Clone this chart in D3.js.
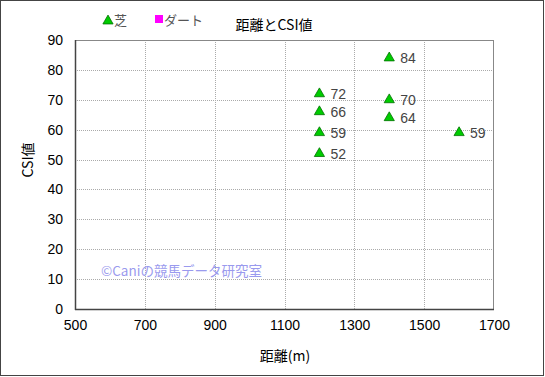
<!DOCTYPE html>
<html><head><meta charset="utf-8">
<script src="https://cdn.jsdelivr.net/npm/d3@7"></script>
<style>body{margin:0;background:#fff}svg{display:block}</style>
</head><body><svg id="c" width="545" height="377"></svg>
<script>
const distances = [1200, 1200, 1200, 1200, 1400, 1400, 1400, 1600];
const csiValues = [72, 66, 59, 52, 84, 70, 64, 59];
const xTicks = [500, 700, 900, 1100, 1300, 1500, 1700];
const yTicks = [0, 10, 20, 30, 40, 50, 60, 70, 80, 90];
const legendLabels = ["芝", "ダート"];
const titleText = "距離とCSI値";
const xTitle = "距離(m)";
const yTitle = "CSI値";
const watermark = "©Caniの競馬データ研究室";

const JP = "'Noto Sans CJK JP',sans-serif";
const LAT = "'Liberation Sans',Arial,sans-serif";
const svg = d3.select("#c");
const L = 75, R = 494, T = 40, B = 309;
const x = d3.scaleLinear().domain([500, 1700]).range([L, R]);
const y = d3.scaleLinear().domain([0, 90]).range([B, T]);

svg.append("rect").attr("x",0.5).attr("y",0.5).attr("width",543).attr("height",375)
  .attr("fill","#fff").attr("stroke","#444").attr("stroke-width",1);

// grid
const g = svg.append("g");
g.selectAll(".gx").data(xTicks.slice(1,-1)).enter().append("line")
  .attr("x1",d=>Math.round(x(d))+0.5).attr("x2",d=>Math.round(x(d))+0.5).attr("y1",T).attr("y2",B)
  .attr("stroke","#aaa").attr("stroke-dasharray","1,1");
g.selectAll(".gy").data(yTicks.slice(1,-1)).enter().append("line")
  .attr("y1",d=>Math.round(y(d))+0.5).attr("y2",d=>Math.round(y(d))+0.5).attr("x1",L).attr("x2",R)
  .attr("stroke","#aaa").attr("stroke-dasharray","1,1");

// frame
svg.append("rect").attr("x",L+0.5).attr("y",T+0.5).attr("width",R-L-1).attr("height",B-T)
  .attr("fill","none").attr("stroke","#888");
svg.append("line").attr("x1",L+0.5).attr("x2",L+0.5).attr("y1",T).attr("y2",B+1).attr("stroke","#444").attr("stroke-width",1.5);
svg.append("line").attr("x1",L).attr("x2",R).attr("y1",B+0.5).attr("y2",B+0.5).attr("stroke","#444").attr("stroke-width",1.5);

// axes via d3
const xa = svg.append("g").attr("transform",`translate(0,${B})`)
  .call(d3.axisBottom(x).tickValues(xTicks).tickSize(0).tickPadding(11).tickFormat(d3.format("d")));
xa.select(".domain").remove();
xa.selectAll("text").style("font-size","14px").style("fill","#000").style("font-family",LAT);
const ya = svg.append("g").attr("transform",`translate(${L},0)`)
  .call(d3.axisLeft(y).tickValues(yTicks).tickSize(0).tickPadding(12));
ya.select(".domain").remove();
ya.selectAll("text").style("font-size","14px").style("fill","#000").style("font-family",LAT);

// titles
svg.append("text").attr("x",274).attr("y",30).attr("text-anchor","middle").style("font-size","14px").style("font-family",JP).attr("fill","#000").text(titleText);
svg.append("text").attr("x",285).attr("y",361).attr("text-anchor","middle").style("font-size","14px").style("font-family",JP).attr("fill","#000").text(xTitle);
svg.append("text").attr("transform","translate(33,160) rotate(-90)").attr("text-anchor","middle").style("font-size","14px").style("font-family",JP).attr("fill","#000").text(yTitle);

// watermark
svg.append("text").attr("x",101).attr("y",276).style("font-size","13.5px").style("font-family",JP).attr("fill","#9a9aee").text(watermark);

// legend
const tri = d3.symbol().type(d3.symbolTriangle).size(45);
svg.append("path").attr("d",tri()).attr("transform","translate(108,21)").attr("fill","#00cc00").attr("stroke","#007000").attr("stroke-width",0.8);
svg.append("text").attr("x",114).attr("y",25).style("font-size","13px").style("font-family",JP).attr("fill","#555").text(legendLabels[0]);
svg.append("rect").attr("x",155).attr("y",15).attr("width",8).attr("height",8).attr("fill","#ff00ff");
svg.append("text").attr("x",164).attr("y",25).style("font-size","13px").style("font-family",JP).attr("fill","#555").text(legendLabels[1]);

// points
const pts = distances.map((d,i)=>({d, v: csiValues[i]}));
svg.selectAll(".pt").data(pts).enter().append("path")
  .attr("d",tri()).attr("transform",p=>`translate(${x(p.d)},${y(p.v)})`)
  .attr("fill","#00cc00").attr("stroke","#007000").attr("stroke-width",0.8);
svg.selectAll(".lbl").data(pts).enter().append("text")
  .attr("x",p=>x(p.d)+11).attr("y",p=>y(p.v)+5).style("font-size","14px").attr("fill","#444")
  .style("font-family",LAT).text(p=>p.v);
</script></body></html>
